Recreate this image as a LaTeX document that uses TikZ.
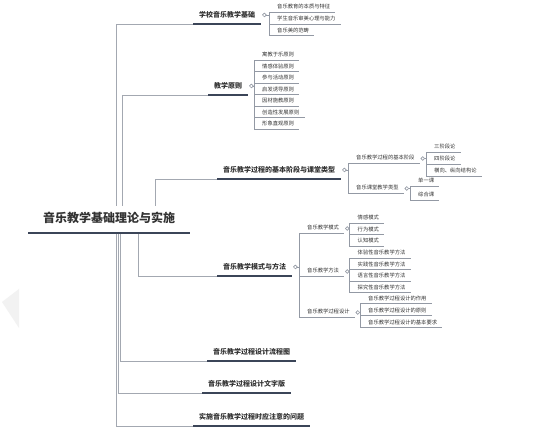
\documentclass[tikz,border=0pt]{standalone}
\usepackage{fontspec}
\setmainfont{Noto Sans CJK SC}
\usetikzlibrary{positioning}
\definecolor{txt}{HTML}{333333}
\definecolor{linkgray}{HTML}{A3A8B1}
\definecolor{twiggray}{HTML}{9399A4}
\definecolor{bargray}{HTML}{3B4558}

\begin{document}
\begin{tikzpicture}[
    x=1pt, y=-1pt,
    font=\fontsize{5.3}{6}\selectfont,
    every node/.style={text=txt},
    core/.style={anchor=south west, font=\fontsize{12}{14}\selectfont\bfseries, inner xsep=15pt, inner ysep=8pt, text height=9pt, text depth=2pt},
    topic/.style={anchor=south west, font=\fontsize{7}{8}\selectfont\bfseries, inner xsep=6pt, inner ysep=5pt, text height=6pt, text depth=1.2pt},
    leaf/.style={anchor=south west, inner xsep=5pt, inner ysep=1.8pt, text height=4.5pt, text depth=1pt},
    fold/.style={circle, draw=twiggray, fill=white, line width=0.5pt, inner sep=0pt, minimum size=3.6pt},
    link/.style={draw=linkgray, line width=0.9pt},
    twig/.style={draw=twiggray, line width=0.6pt},
    thickline/.style={draw=bargray, line width=1.8pt},
    uline/.style={draw=twiggray, line width=0.7pt}
  ]
    \useasboundingbox[fill=white] (0,0) rectangle (533,430);
    \fill[black!5] (2,302) -- (19,289) -- (19,328) -- cycle;

    % root and main topics
    \node[core] (root) at (28,233) {音乐教学基础理论与实施};
    \node[topic] (b1) at (193,24) {学校音乐教学基础};
    \node[topic] (b2) at (208,95) {教学原则};
    \node[topic] (b3) at (217,179) {音乐教学过程的基本阶段与课堂类型};
    \node[topic] (b4) at (217,276) {音乐教学模式与方法};
    \node[topic] (b5) at (207,361) {音乐教学过程设计流程图};
    \node[topic] (b6) at (202,393) {音乐教学过程设计文字版};
    \node[topic] (b7) at (193,426) {实施音乐教学过程时应注意的问题};

    % subtopics
    \node[leaf] (b1a) at (272,12) {音乐教育的本质与特征};
    \node[leaf] (b1b) at (272,24) {学生音乐审美心理与能力};
    \node[leaf] (b1c) at (272,35.5) {音乐美的范畴};

    \node[leaf] (b2a) at (257,60) {寓教于乐原则};
    \node[leaf] (b2b) at (257,71.5) {情感体验原则};
    \node[leaf] (b2c) at (257,83) {参与活动原则};
    \node[leaf] (b2d) at (257,94.5) {启发诱导原则};
    \node[leaf] (b2e) at (257,106) {因材施教原则};
    \node[leaf] (b2f) at (257,117.5) {创造性发展原则};
    \node[leaf] (b2g) at (257,129) {形象直观原则};

    \node[leaf] (b3a) at (351,163) {音乐教学过程的基本阶段};
    \node[leaf] (b3b) at (351,193) {音乐课堂教学类型};
    \node[leaf] (b3a1) at (429,152) {三阶段论};
    \node[leaf] (b3a2) at (429,164) {四阶段论};
    \node[leaf] (b3a3) at (429,176) {横向、纵向结构论};
    \node[leaf] (b3b1) at (413,186) {单一课};
    \node[leaf] (b3b2) at (413,200) {综合课};

    \node[leaf] (b4a) at (302,233) {音乐教学模式};
    \node[leaf] (b4b) at (302,276) {音乐教学方法};
    \node[leaf] (b4c) at (302,317) {音乐教学过程设计};
    \node[leaf] (b4a1) at (352.5,223) {情感模式};
    \node[leaf] (b4a2) at (352.5,234.5) {行为模式};
    \node[leaf] (b4a3) at (352.5,246) {认知模式};
    \node[leaf] (b4b1) at (352.5,258) {体验性音乐教学方法};
    \node[leaf] (b4b2) at (352.5,269.5) {实践性音乐教学方法};
    \node[leaf] (b4b3) at (352.5,281) {语言性音乐教学方法};
    \node[leaf] (b4b4) at (352.5,292.5) {探究性音乐教学方法};
    \node[leaf] (b4c1) at (363,303.5) {音乐教学过程设计的作用};
    \node[leaf] (b4c2) at (363,315.5) {音乐教学过程设计的原则};
    \node[leaf] (b4c3) at (363,327.5) {音乐教学过程设计的基本要求};

    % fold marks
    \node[fold] (f1) at ([shift={(3pt,9pt)}]b1.south east) {};
    \node[fold] (f2) at ([shift={(3pt,9pt)}]b2.south east) {};
    \node[fold] (f3) at ([shift={(3pt,9pt)}]b3.south east) {};
    \node[fold] (f4) at ([shift={(3pt,9pt)}]b4.south east) {};
    \node[fold] (f3a) at ([shift={(3pt,4.5pt)}]b3a.south east) {};
    \node[fold] (f3b) at ([shift={(3pt,4.5pt)}]b3b.south east) {};
    \node[fold] (f4a) at ([shift={(3pt,4.5pt)}]b4a.south east) {};
    \node[fold] (f4b) at ([shift={(3pt,4.5pt)}]b4b.south east) {};
    \node[fold] (f4c) at ([shift={(3pt,4.5pt)}]b4c.south east) {};

    % connectors
    \foreach \b/\dx/\a in {b1/88/north west,b2/94/north west,b3/127/north west,b4/110/south west,b5/92/south west,b6/90/south west,b7/88/south west}
      \draw[link] ([xshift=\dx pt]root.\a) |- (\b.south west);
    \foreach \f/\c in {f1/b1a,f1/b1b,f1/b1c,f2/b2a,f2/b2b,f2/b2c,f2/b2d,f2/b2e,f2/b2f,f2/b2g,
        f3/b3a,f3/b3b,f3a/b3a1,f3a/b3a2,f3a/b3a3,f3b/b3b1,f3b/b3b2,
        f4/b4a,f4/b4b,f4/b4c,f4a/b4a1,f4a/b4a2,f4a/b4a3,f4b/b4b1,f4b/b4b2,f4b/b4b3,f4b/b4b4,f4c/b4c1,f4c/b4c2,f4c/b4c3}
      \draw[twig] (\f.east) -| ([xshift=-3pt]\c.south west) -- (\c.south west);

    % underlines
    \foreach \n in {root,b1,b2,b3,b4,b5,b6,b7} \draw[thickline] (\n.south west) -- (\n.south east);
    \foreach \n in {b1a,b1b,b1c,b2a,b2b,b2c,b2d,b2e,b2f,b2g,b3a,b3b,b3a1,b3a2,b3a3,b3b1,b3b2,
        b4a,b4b,b4c,b4a1,b4a2,b4a3,b4b1,b4b2,b4b3,b4b4,b4c1,b4c2,b4c3}
      \draw[uline] (\n.south west) -- (\n.south east);
    \foreach \f in {f1,f2,f3,f4,f3a,f3b,f4a,f4b,f4c} \node[fold] at (\f) {};
\end{tikzpicture}
\end{document}
